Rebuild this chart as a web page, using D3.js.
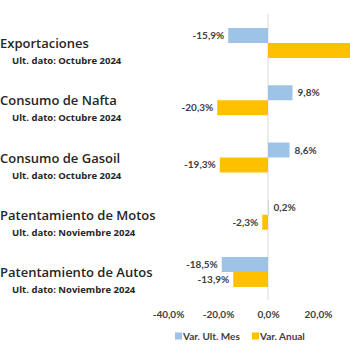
<!DOCTYPE html>
<html>
<head>
<meta charset="utf-8">
<script src="https://cdn.jsdelivr.net/npm/d3@7"></script>
<style>
  body { margin: 0; background: #fff; }
  svg { display: block; }
  .title { font-family: "Open Sans", sans-serif; font-weight: 600; font-size: 13px; fill: #262626; }
  .sub { font-family: "Open Sans", sans-serif; font-weight: 700; font-size: 9.5px; fill: #262626; }
  .val, .tick text, .legend text { font-family: Lato, sans-serif; font-weight: 700; font-size: 10px; fill: #404040; }
</style>
</head>
<body>
<div id="chart"></div>
<script>
// data
const categories = ["Exportaciones", "Consumo de Nafta", "Consumo de Gasoil", "Patentamiento de Motos", "Patentamiento de Autos"];
const subtitles = ["Ult. dato: Octubre 2024", "Ult. dato: Octubre 2024", "Ult. dato: Octubre 2024", "Ult. dato: Noviembre 2024", "Ult. dato: Noviembre 2024"];
const seriesNames = ["Var. Ult. Mes", "Var. Anual"];
const varUltMes = [-15.9, 9.8, 8.6, 0.2, -18.5];
const varAnual = [38.0, -20.3, -19.3, -2.3, -13.9];
const tickValues = [-40, -20, 0, 20];
const colors = ["#9dc3e6", "#ffc000"];

const width = 350, height = 350;

const svg = d3.select("#chart").append("svg")
    .attr("width", width)
    .attr("height", height);

const x = d3.scaleLinear()
    .domain([-40, 40])
    .range([168, 368]);

const y = d3.scaleBand()
    .domain(categories)
    .range([14.4, 300.6]);

const ySub = d3.scaleBand()
    .domain(seriesNames)
    .range([0, y.bandwidth()])
    .paddingOuter(0.91);

// excel style: hyphen minus and decimal comma
const fmt = v => (v < 0 ? "-" : "") + d3.format(".1f")(Math.abs(v)).replace(".", ",") + "%";

const rows = categories.map((c, i) => ({
    cat: c,
    sub: subtitles[i],
    values: [varUltMes[i], varAnual[i]]
}));

// zero line
svg.append("line")
    .attr("x1", x(0)).attr("x2", x(0))
    .attr("y1", 14).attr("y2", 300)
    .attr("stroke", "#d9d9d9")
    .attr("stroke-width", 1);

// category labels
const lab = svg.selectAll(".lab").data(rows).enter().append("g").attr("class", "lab");
lab.append("text")
    .attr("class", "title")
    .attr("x", 0)
    .attr("y", d => y(d.cat) + y.bandwidth() / 2 + 5)
    .text(d => d.cat);
lab.append("text")
    .attr("class", "sub")
    .attr("x", 12)
    .attr("y", d => y(d.cat) + y.bandwidth() / 2 + 21)
    .text(d => d.sub);

// bars
const bars = rows.flatMap(r => r.values.map((v, j) => ({cat: r.cat, s: seriesNames[j], j: j, v: v})));

svg.selectAll(".bar").data(bars).enter().append("rect")
    .attr("class", "bar")
    .attr("x", d => x(Math.min(0, d.v)))
    .attr("y", d => y(d.cat) + ySub(d.s))
    .attr("width", d => Math.abs(x(d.v) - x(0)))
    .attr("height", ySub.bandwidth())
    .attr("fill", d => colors[d.j]);

// labels that fall past the right edge are not shown (cropped in the original)
svg.selectAll(".val").data(bars.filter(d => x(d.v) + 5 < width)).enter().append("text")
    .attr("class", "val")
    .attr("x", d => d.v < 0 ? x(d.v) - 4 : x(d.v) + 5)
    .attr("y", d => y(d.cat) + ySub(d.s) + ySub.bandwidth() / 2)
    .attr("dy", "0.35em")
    .attr("text-anchor", d => d.v < 0 ? "end" : "start")
    .text(d => fmt(d.v));

// x axis
const axis = svg.append("g")
    .attr("transform", "translate(0,308)")
    .call(d3.axisBottom(x).tickValues(tickValues).tickSize(0).tickFormat(fmt));
axis.select(".domain").remove();

// legend
const legend = svg.append("g").attr("class", "legend")
    .attr("transform", "translate(175,336)");
const items = [{name: seriesNames[0], x: 0}, {name: seriesNames[1], x: 77}];
const li = legend.selectAll("g").data(items).enter().append("g")
    .attr("transform", d => `translate(${d.x},0)`);
li.append("rect")
    .attr("x", 0).attr("y", -3.5)
    .attr("width", 7).attr("height", 7)
    .attr("fill", (d, i) => colors[i]);
li.append("text")
    .attr("x", 8)
    .attr("dy", "0.35em")
    .text(d => d.name);
</script>
</body>
</html>
